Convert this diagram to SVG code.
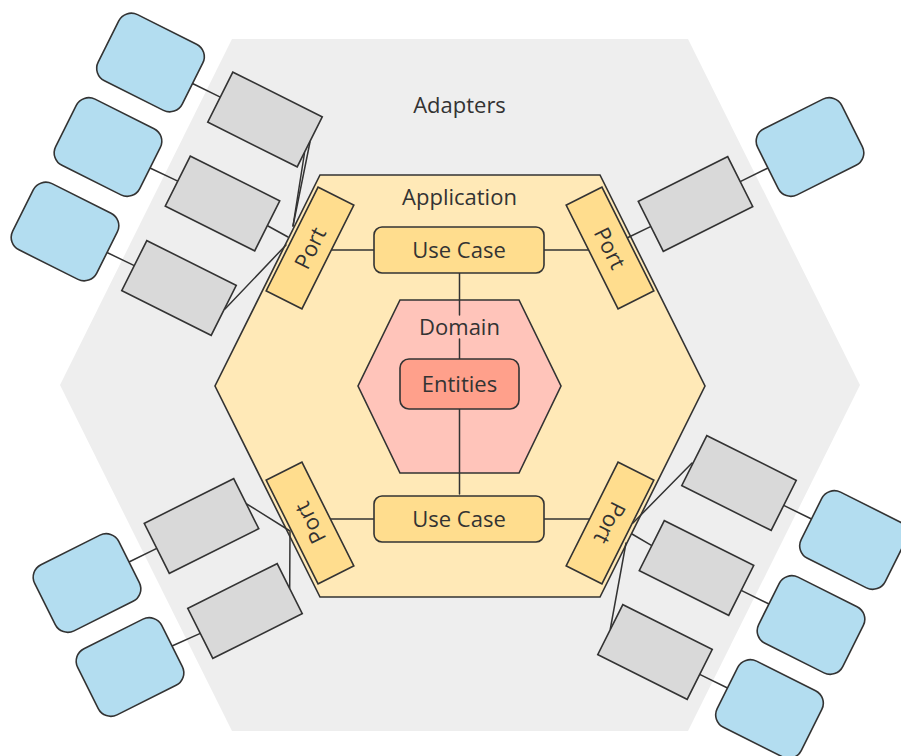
<svg xmlns="http://www.w3.org/2000/svg" width="901" height="756" viewBox="0 0 901 756">
  <style>
    .lbl { font-family: "Open Sans", "Noto Sans", "Liberation Sans", sans-serif; font-size: 22px; fill: #333333; text-anchor: middle; }
    .edge { stroke: #333333; stroke-width: 1.5; fill: none; stroke-linecap: round; }
    .adapter { fill: #D9D9D9; stroke: #333333; stroke-width: 1.6; }
    .external { fill: #B3DDF0; stroke: #333333; stroke-width: 1.6; }
    .port { fill: #FFDD8E; stroke: #333333; stroke-width: 1.6; }
    .usecase { fill: #FFDD8E; stroke: #333333; stroke-width: 1.6; }
  </style>
  <defs>
    <rect id="adapterBox" x="-50" y="-28" width="100" height="56"/>
    <rect id="externalBox" x="-47" y="-37" width="94" height="74" rx="14" ry="14"/>
    <rect id="portBox" x="-58" y="-20" width="116" height="40"/>
  </defs>

  <rect width="901" height="756" fill="#FFFFFF"/>

  <!-- outer layer: adapters -->
  <g id="adapters-layer">
    <polygon points="232,39 688,39 860,385 688,731 232,731 60,385" fill="#EEEEEE"/>
  </g>

  <!-- application layer -->
  <g id="application-layer">
    <polygon points="320,175 600,175 705,386 600,597 320,597 215,386" fill="#FFE9B7" stroke="#333333" stroke-width="1.6"/>
  </g>

  <!-- domain core -->
  <g id="domain-layer">
    <polygon points="400,300 519,300 561,386 519,473 400,473 358,386" fill="#FFC4BA" stroke="#333333" stroke-width="1.6"/>
  </g>

  <!-- connectors -->
  <g id="connectors">
    <!-- use cases to entities -->
    <line class="edge" x1="459.5" y1="273" x2="459.5" y2="315"/>
    <line class="edge" x1="459.5" y1="339" x2="459.5" y2="359"/>
    <line class="edge" x1="459.5" y1="409" x2="459.5" y2="494"/>
    <!-- use cases to ports -->
    <line class="edge" x1="332" y1="250" x2="374" y2="250"/>
    <line class="edge" x1="544" y1="250" x2="588" y2="250"/>
    <line class="edge" x1="330" y1="519" x2="374" y2="519"/>
    <line class="edge" x1="544" y1="519" x2="590" y2="519"/>
    <!-- ports to adapters -->
    <line class="edge" x1="310" y1="142" x2="293" y2="226"/>
    <line class="edge" x1="304.5" y1="153" x2="293" y2="226"/>
    <line class="edge" x1="268" y1="226" x2="288" y2="237"/>
    <line class="edge" x1="225" y1="309" x2="286" y2="245"/>
    <line class="edge" x1="651" y1="226.4" x2="627" y2="238"/>
    <line class="edge" x1="246.2" y1="503.6" x2="290" y2="531"/>
    <line class="edge" x1="289.7" y1="588" x2="290" y2="532"/>
    <line class="edge" x1="692" y1="463" x2="633" y2="523"/>
    <line class="edge" x1="651.8" y1="545.6" x2="632" y2="534"/>
    <line class="edge" x1="610.3" y1="629" x2="626" y2="543"/>
    <!-- adapters to external actors -->
    <line class="edge" x1="220.3" y1="97.1" x2="192.5" y2="83.5"/>
    <line class="edge" x1="177.8" y1="181.1" x2="150" y2="168"/>
    <line class="edge" x1="134.3" y1="265.6" x2="107" y2="252.5"/>
    <line class="edge" x1="740.2" y1="181.6" x2="768" y2="168"/>
    <line class="edge" x1="156.8" y1="548.4" x2="129" y2="562"/>
    <line class="edge" x1="200.3" y1="633.4" x2="172" y2="646"/>
    <line class="edge" x1="783.7" y1="505.4" x2="811.5" y2="519"/>
    <line class="edge" x1="741.2" y1="590.4" x2="769" y2="604"/>
    <line class="edge" x1="699.7" y1="674.4" x2="727.5" y2="688"/>
  </g>

  <!-- layer labels -->
  <text class="lbl" x="459.5" y="113">Adapters</text>
  <text class="lbl" x="459.5" y="205">Application</text>
  <text class="lbl" x="459.5" y="335">Domain</text>

  <!-- entities -->
  <g id="entities">
    <rect x="400" y="359" width="119" height="50" rx="9" ry="9" fill="#FFA08B" stroke="#333333" stroke-width="1.6"/>
    <text class="lbl" x="459.5" y="391.5">Entities</text>
  </g>

  <!-- use cases -->
  <g id="usecase-top">
    <rect class="usecase" x="374" y="227" width="170" height="46" rx="8" ry="8"/>
    <text class="lbl" x="459" y="257.5">Use Case</text>
  </g>
  <g id="usecase-bottom">
    <rect class="usecase" x="374" y="496" width="170" height="46" rx="8" ry="8"/>
    <text class="lbl" x="459" y="526.5">Use Case</text>
  </g>

  <!-- ports -->
  <g id="port-top-left" transform="translate(310,248) rotate(-63.43)">
    <use href="#portBox" class="port"/>
    <text class="lbl" x="0" y="8">Port</text>
  </g>
  <g id="port-top-right" transform="translate(610,248) rotate(63.43)">
    <use href="#portBox" class="port"/>
    <text class="lbl" x="0" y="8">Port</text>
  </g>
  <g id="port-bottom-left" transform="translate(310,523) rotate(-116.57)">
    <use href="#portBox" class="port"/>
    <text class="lbl" x="0" y="8">Port</text>
  </g>
  <g id="port-bottom-right" transform="translate(610,523) rotate(116.57)">
    <use href="#portBox" class="port"/>
    <text class="lbl" x="0" y="8">Port</text>
  </g>

  <!-- adapters -->
  <g id="adapter-tl-1" transform="translate(265,119.5) rotate(26.57)"><use href="#adapterBox" class="adapter"/></g>
  <g id="adapter-tl-2" transform="translate(222.5,203.5) rotate(26.57)"><use href="#adapterBox" class="adapter"/></g>
  <g id="adapter-tl-3" transform="translate(179,288) rotate(26.57)"><use href="#adapterBox" class="adapter"/></g>
  <g id="adapter-tr-1" transform="translate(695.5,204) rotate(-26.57)"><use href="#adapterBox" class="adapter"/></g>
  <g id="adapter-bl-1" transform="translate(201.5,526) rotate(-26.57)"><use href="#adapterBox" class="adapter"/></g>
  <g id="adapter-bl-2" transform="translate(245,611) rotate(-26.57)"><use href="#adapterBox" class="adapter"/></g>
  <g id="adapter-br-1" transform="translate(739,483) rotate(26.57)"><use href="#adapterBox" class="adapter"/></g>
  <g id="adapter-br-2" transform="translate(696.5,568) rotate(26.57)"><use href="#adapterBox" class="adapter"/></g>
  <g id="adapter-br-3" transform="translate(655,652) rotate(26.57)"><use href="#adapterBox" class="adapter"/></g>

  <!-- external actors -->
  <g id="external-tl-1" transform="translate(150.5,62.5) rotate(26.57)"><use href="#externalBox" class="external"/></g>
  <g id="external-tl-2" transform="translate(108,147) rotate(26.57)"><use href="#externalBox" class="external"/></g>
  <g id="external-tl-3" transform="translate(65,231.5) rotate(26.57)"><use href="#externalBox" class="external"/></g>
  <g id="external-tr-1" transform="translate(810,147) rotate(-26.57)"><use href="#externalBox" class="external"/></g>
  <g id="external-bl-1" transform="translate(87,583) rotate(-26.57)"><use href="#externalBox" class="external"/></g>
  <g id="external-bl-2" transform="translate(130,667) rotate(-26.57)"><use href="#externalBox" class="external"/></g>
  <g id="external-br-1" transform="translate(853.5,540) rotate(26.57)"><use href="#externalBox" class="external"/></g>
  <g id="external-br-2" transform="translate(811,625) rotate(26.57)"><use href="#externalBox" class="external"/></g>
  <g id="external-br-3" transform="translate(769.5,709) rotate(26.57)"><use href="#externalBox" class="external"/></g>
</svg>
